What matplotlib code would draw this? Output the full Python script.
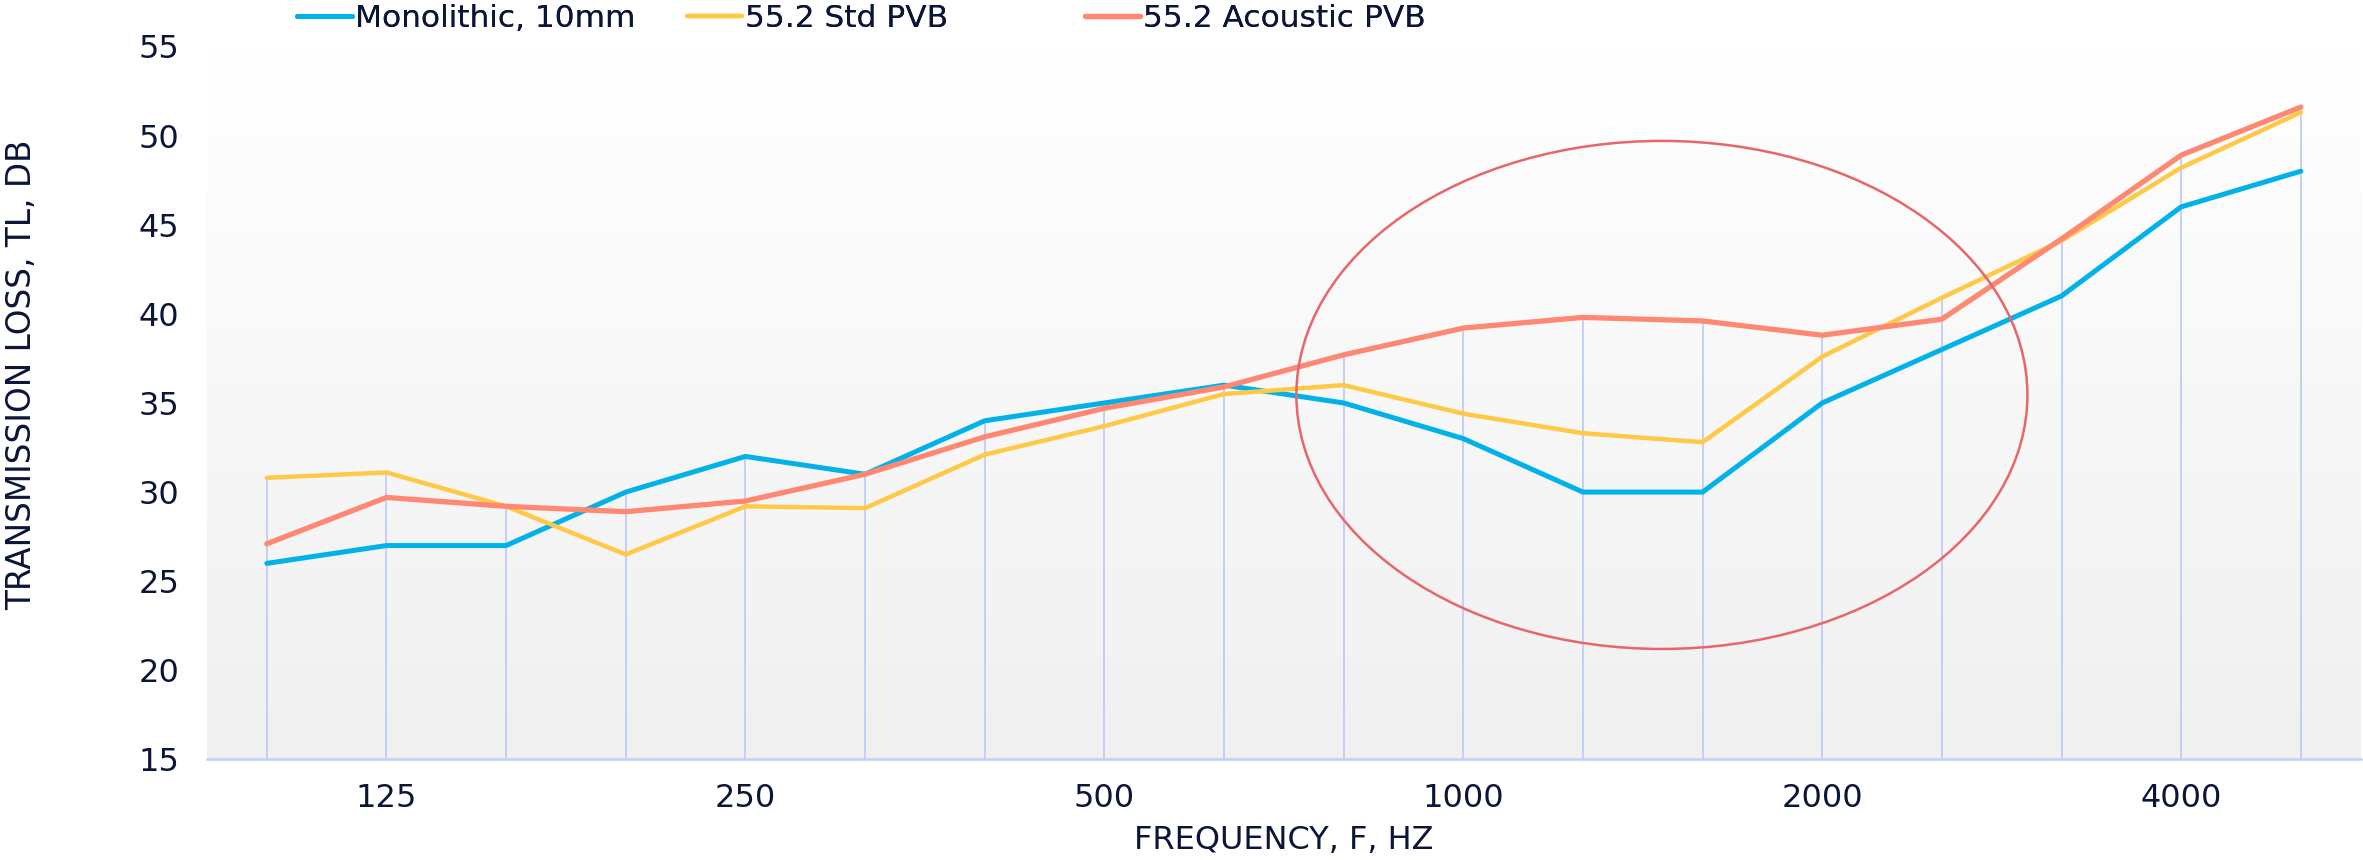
import numpy as np
import matplotlib.pyplot as plt
from matplotlib.colors import LinearSegmentedColormap
from matplotlib.patches import Ellipse

# third-octave band centres (Hz) and transmission loss (dB)
freqs = ["100", "125", "160", "200", "250", "315", "400", "500", "630",
         "800", "1000", "1250", "1600", "2000", "2500", "3150", "4000", "5000"]
monolithic = [26.0, 27.0, 27.0, 30.0, 32.0, 31.0, 34.0, 35.0, 36.0,
              35.0, 33.0, 30.0, 30.0, 35.0, 38.0, 41.0, 46.0, 48.0]
std_pvb = [30.8, 31.1, 29.2, 26.5, 29.2, 29.1, 32.1, 33.7, 35.5,
           36.0, 34.4, 33.3, 32.8, 37.6, 40.9, 44.1, 48.2, 51.3]
acoustic_pvb = [27.1, 29.7, 29.2, 28.9, 29.5, 31.0, 33.1, 34.7, 35.9,
                37.7, 39.2, 39.8, 39.6, 38.8, 39.7, 44.2, 48.9, 51.6]
labelled = ["125", "250", "500", "1000", "2000", "4000"]

plt.rcParams['font.family'] = ['DejaVu Sans']
navy = "#0b1538"

fig = plt.figure(figsize=(23.63, 8.6), dpi=100)
ax = fig.add_axes([0.0876, 0.1169, 0.9114, 0.8291])

x = np.arange(len(freqs))
ax.set_xlim(-0.5, len(freqs) - 0.5)
ax.set_ylim(15, 55)

# soft vertical gradient behind the plot
grad = np.linspace(0, 1, 256).reshape(-1, 1)
ax.imshow(grad, extent=[-0.5, len(freqs) - 0.5, 15, 55], aspect="auto",
          cmap=LinearSegmentedColormap.from_list("bg", ["#ffffff", "#f0f0f0"]),
          origin="upper", zorder=0)

# drop lines up to the highest curve at each band
top = np.max([monolithic, std_pvb, acoustic_pvb], axis=0)
ax.vlines(x, 15, top, color="#c0ccf8", lw=1.3, zorder=1)

l1, = ax.plot(x, monolithic, color="#00b2e9", lw=3.6, solid_capstyle="round",
              solid_joinstyle="round", label="Monolithic, 10mm", zorder=3)
l2, = ax.plot(x, std_pvb, color="#ffc845", lw=3.2, solid_capstyle="round",
              solid_joinstyle="round", label="55.2 Std PVB", zorder=3)
l3, = ax.plot(x, acoustic_pvb, color="#ff8872", lw=3.8, solid_capstyle="round",
              solid_joinstyle="round", label="55.2 Acoustic PVB", zorder=3)

# highlight the coincidence dip region
ax.add_patch(Ellipse((11.66, 35.45), 6.11, 28.5, fill=False,
                     edgecolor="#e8666b", lw=1.8, zorder=4))

for side in ["top", "right", "left"]:
    ax.spines[side].set_visible(False)
ax.spines["bottom"].set_color("#c4cff8")
ax.spines["bottom"].set_linewidth(1.8)

ax.set_xticks([freqs.index(f) for f in labelled])
ax.set_xticklabels(labelled)
ax.set_yticks(np.arange(15, 56, 5))
ax.tick_params(axis="both", length=0, labelsize=23, colors=navy)
ax.tick_params(axis="y", pad=20)
ax.tick_params(axis="x", pad=17)

ax.set_xlabel("FREQUENCY, F, HZ", fontsize=23, color=navy, labelpad=8)
ax.set_ylabel("TRANSMISSION LOSS, TL, DB", fontsize=23.5, color=navy)
ax.yaxis.set_label_coords(-0.0785, 0.54)

# legend entries sit in evenly spaced slots along the top
for line, xpos in zip([l1, l2, l3], [0.1257, 0.2908, 0.4592]):
    leg = fig.legend(handles=[line], loc="center left",
                     bbox_to_anchor=(xpos, 0.979), frameon=False,
                     fontsize=22.5, handlelength=1.75, handletextpad=0.1,
                     borderpad=0, borderaxespad=0, labelcolor=navy)
    fig.add_artist(leg)

fig.savefig("out.png", dpi=100)
